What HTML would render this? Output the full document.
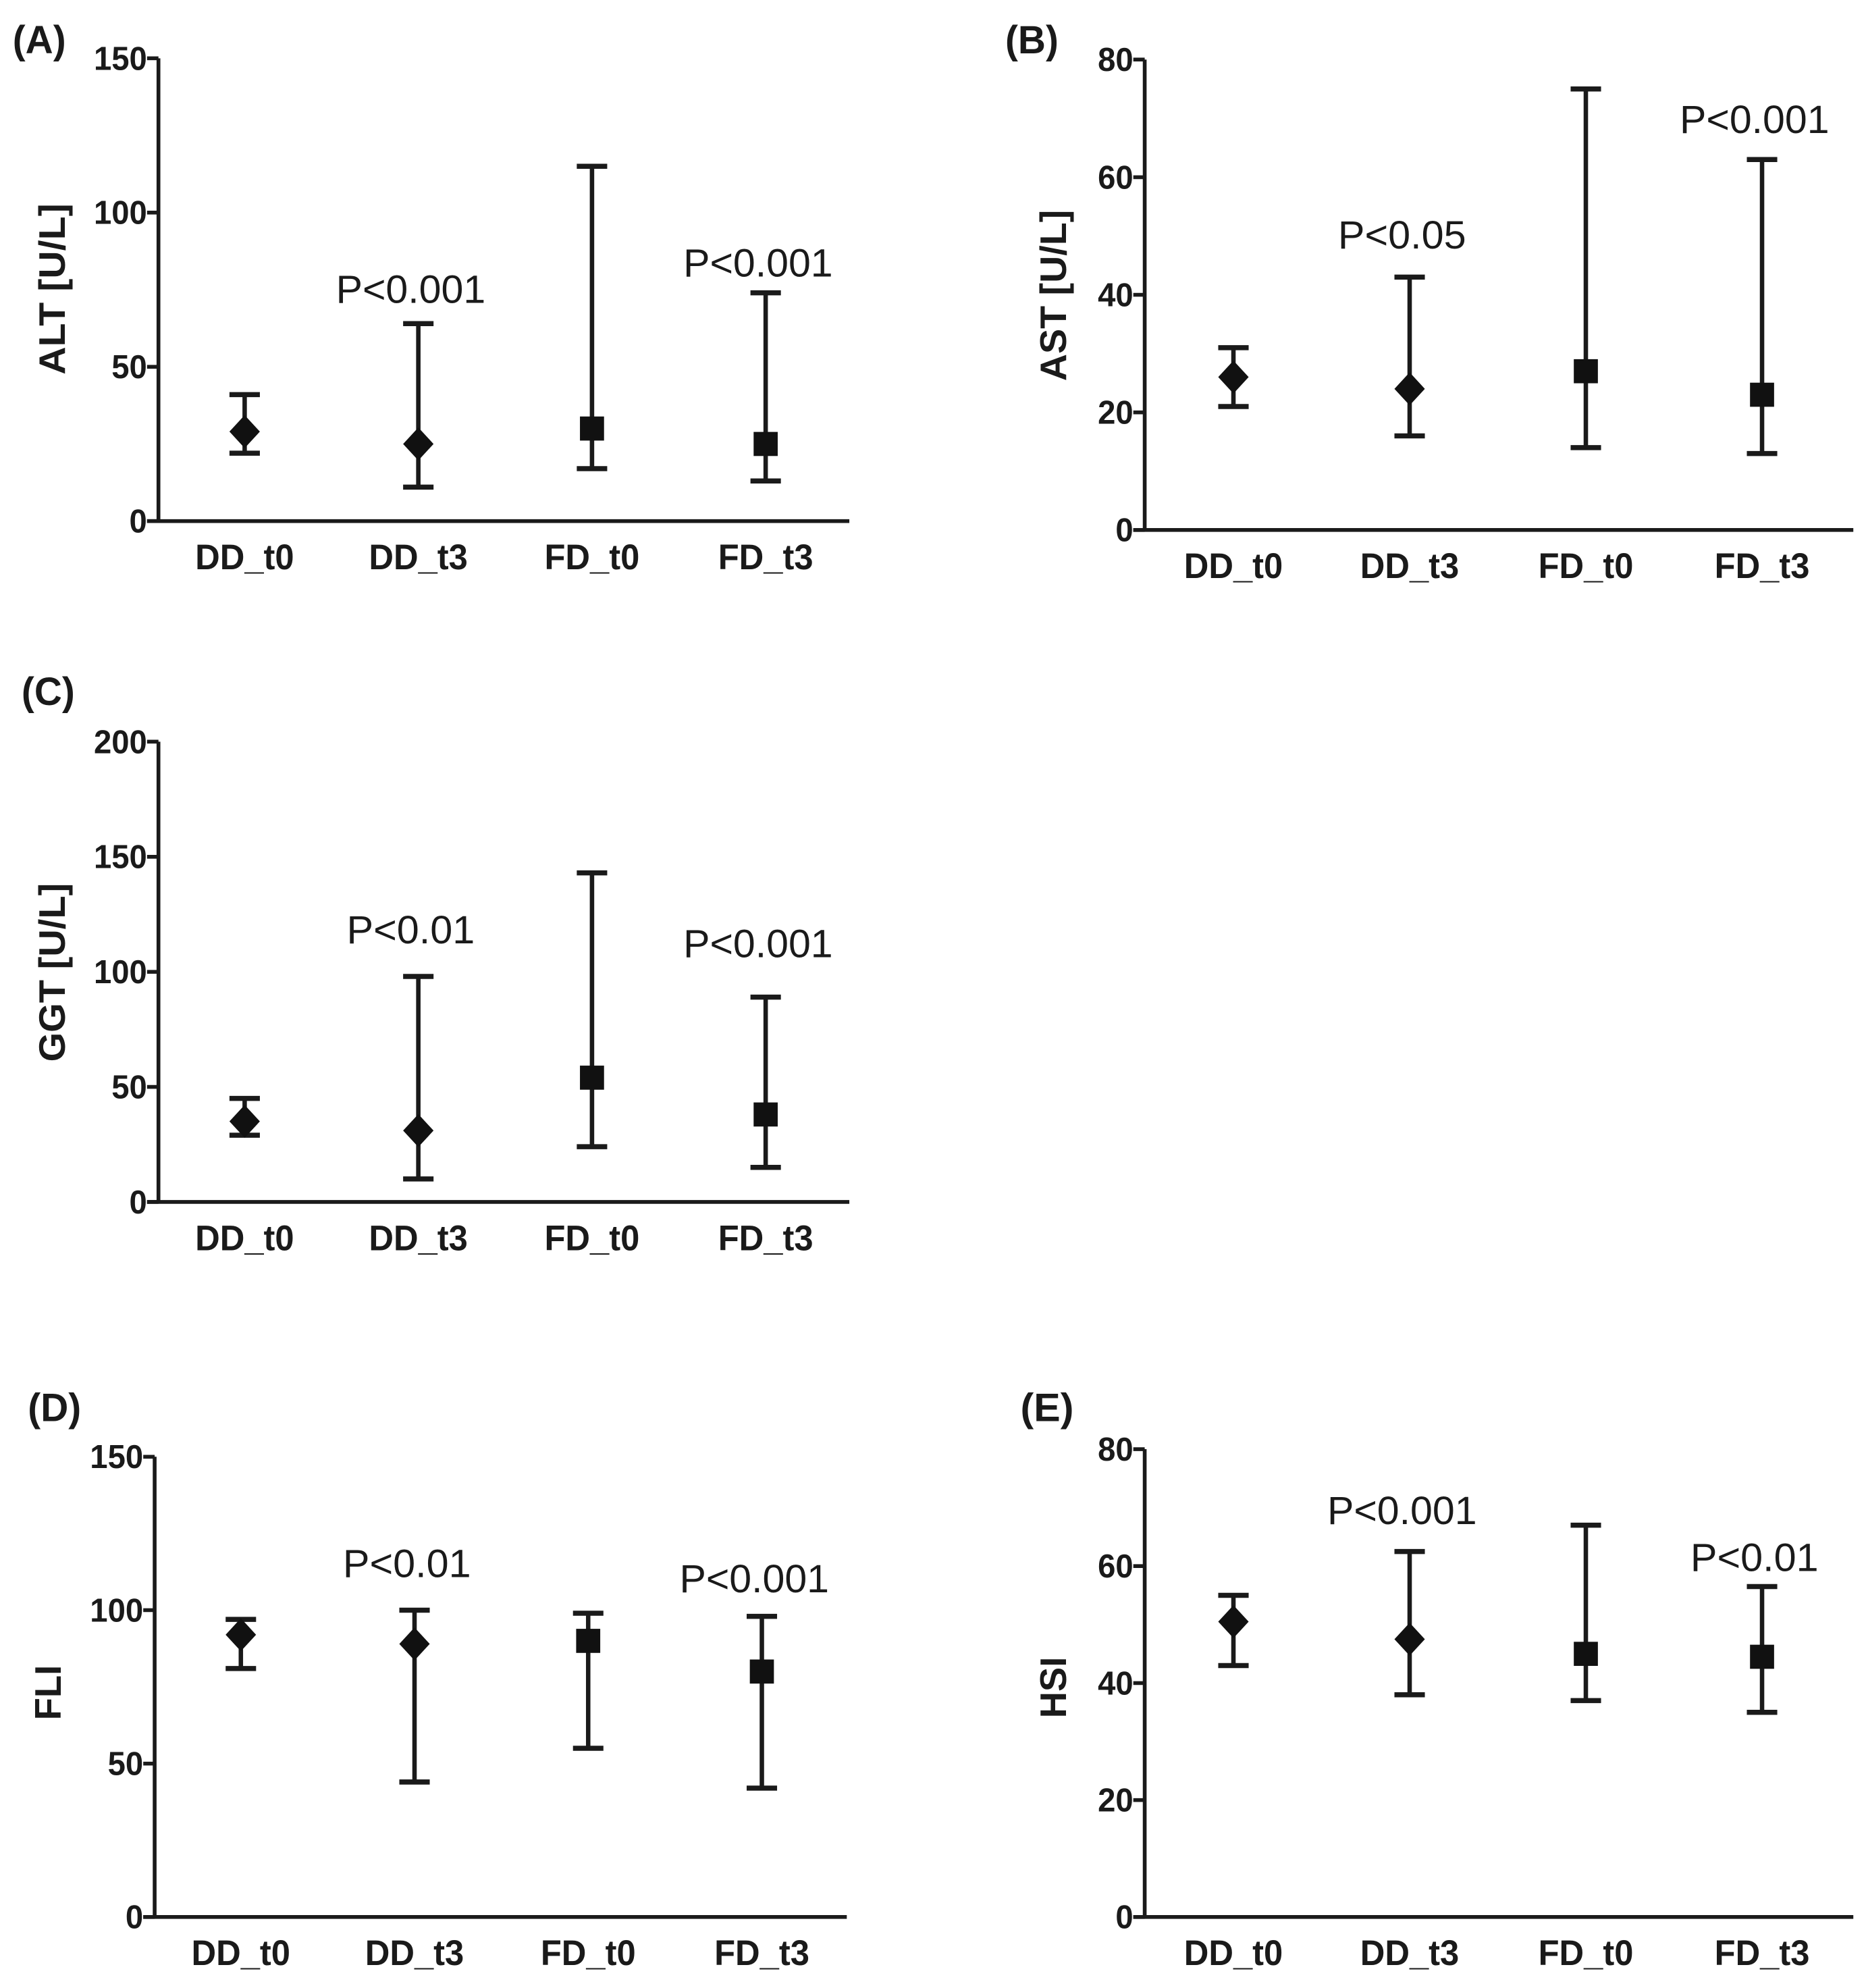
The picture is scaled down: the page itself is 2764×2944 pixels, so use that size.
<!DOCTYPE html>
<html><head><meta charset="utf-8"><style>
html,body{margin:0;padding:0;background:#fff;}
svg{display:block;}
text{font-family:"Liberation Sans",Arial,sans-serif;fill:#1a1a1a;}
</style></head><body>
<svg id="fig" width="2764" height="2944" viewBox="0 0 1472 1568" preserveAspectRatio="none" xmlns="http://www.w3.org/2000/svg"></svg>
<script>
const categories = ["DD_t0","DD_t3","FD_t0","FD_t3"];
const markers = ["diamond","diamond","square","square"];

const altMean = [29,25,30,25];
const altLow = [22,11,17,13];
const altHigh = [41,64,115,74];
const altTicks = [0,50,100,150];
const altP = ["","P<0.001","","P<0.001"];

const astMean = [26,24,27,23];
const astLow = [21,16,14,13];
const astHigh = [31,43,75,63];
const astTicks = [0,20,40,60,80];
const astP = ["","P<0.05","","P<0.001"];

const ggtMean = [35,31,54,38];
const ggtLow = [29,10,24,15];
const ggtHigh = [45,98,143,89];
const ggtTicks = [0,50,100,150,200];
const ggtP = ["","P<0.01","","P<0.001"];

const fliMean = [92,89,90,80];
const fliLow = [81,44,55,42];
const fliHigh = [97,100,99,98];
const fliTicks = [0,50,100,150];
const fliP = ["","P<0.01","","P<0.001"];

const hsiMean = [50.5,47.5,45,44.5];
const hsiLow = [43,38,37,35];
const hsiHigh = [55,62.5,67,56.5];
const hsiTicks = [0,20,40,60,80];
const hsiP = ["","P<0.001","","P<0.01"];

const NS="http://www.w3.org/2000/svg";
const svg=document.getElementById('fig');
function mk(tag,attrs,parent){const e=document.createElementNS(NS,tag);for(const k in attrs)e.setAttribute(k,attrs[k]);(parent||svg).appendChild(e);return e;}

function panel(cfg){
  const g=mk('g',{});
  
  
  const ymax=cfg.ticks[cfg.ticks.length-1];
  const y=v=>cfg.bottom-(v/ymax)*(cfg.bottom-cfg.top);
  const x=i=>cfg.cx0+i*cfg.dx;
  const lt=mk('text',{x:cfg.lx,y:cfg.ly,'font-size':31,'font-weight':'bold',textLength:42,lengthAdjust:'spacingAndGlyphs'},g);
  lt.textContent='('+cfg.id+')';
  
  
  const ya=mk('line',{x1:cfg.ax,y1:cfg.top,x2:cfg.ax,y2:cfg.bottom,stroke:'#1a1a1a','stroke-width':3},g);
  
  
  const xa=mk('line',{x1:cfg.ax-9,y1:cfg.bottom,x2:cfg.right,y2:cfg.bottom,stroke:'#1a1a1a','stroke-width':3},g);
  
  
  cfg.ticks.forEach(t=>{
    mk('line',{x1:cfg.ax-9,y1:y(t),x2:cfg.ax,y2:y(t),stroke:'#1a1a1a','stroke-width':3},g);
    const s=String(t);
    const tt=mk('text',{x:cfg.ax-9,y:y(t)+9,'font-size':26,'font-weight':'bold','text-anchor':'end',textLength:s.length*14,lengthAdjust:'spacingAndGlyphs'},g);
    tt.textContent=s;
    
    
  });
  const ta={x:0,y:0,'font-size':29,'font-weight':'bold','text-anchor':'middle',transform:`translate(${cfg.tx},${cfg.ty}) rotate(-90)`};
  if(cfg.tlen){ta.textLength=cfg.tlen;ta.lengthAdjust='spacingAndGlyphs';}
  const yt=mk('text',ta,g);
  yt.textContent=cfg.title;
  
  
  categories.forEach((c,i)=>{
    const ct=mk('text',{x:x(i),y:cfg.bottom+38,'font-size':28,'font-weight':'bold','text-anchor':'middle',textLength:c.startsWith('DD')?78:75,lengthAdjust:'spacingAndGlyphs'},g);
    ct.textContent=c;
    
    
    const eg=mk('g',{},g);
    
    
    const xi=x(i),yl=y(cfg.low[i]),yh=y(cfg.high[i]),ym=y(cfg.mean[i]);
    mk('line',{x1:xi,y1:yl,x2:xi,y2:yh,stroke:'#1a1a1a','stroke-width':3.5},eg);
    mk('line',{x1:xi-12,y1:yl,x2:xi+12,y2:yl,stroke:'#1a1a1a','stroke-width':4},eg);
    mk('line',{x1:xi-12,y1:yh,x2:xi+12,y2:yh,stroke:'#1a1a1a','stroke-width':4},eg);
    let m;
    if(markers[i]==='diamond'){
      m=mk('polygon',{points:`${xi},${ym-13} ${xi+12},${ym} ${xi},${ym+13} ${xi-12},${ym}`,fill:'#111'},eg);
    }else{
      m=mk('rect',{x:xi-9.5,y:ym-9.5,width:19,height:19,fill:'#111'},eg);
    }
    
    
    if(cfg.p[i]){
      const s=cfg.p[i];
      const pt=mk('text',{x:xi-6,y:cfg.py[i],'font-size':31,'text-anchor':'middle',textLength:s.length===7?118:101,lengthAdjust:'spacingAndGlyphs'},g);
      pt.textContent=s;
      
      
    }
  });
}

panel({id:'A',lx:10,ly:42,ax:125,top:46,bottom:411,right:670,cx0:193,dx:137,tx:51,ty:228,tlen:135,title:'ALT [U/L]',ticks:altTicks,mean:altMean,low:altLow,high:altHigh,p:altP,py:[0,239,0,218]});
panel({id:'B',lx:793,ly:42,ax:903,top:47,bottom:418,right:1462,cx0:973,dx:139,tx:841,ty:233,tlen:135,title:'AST [U/L]',ticks:astTicks,mean:astMean,low:astLow,high:astHigh,p:astP,py:[0,196,0,105]});
panel({id:'C',lx:17,ly:556,ax:125,top:585,bottom:948,right:670,cx0:193,dx:137,tx:51,ty:767,tlen:141,title:'GGT [U/L]',ticks:ggtTicks,mean:ggtMean,low:ggtLow,high:ggtHigh,p:ggtP,py:[0,744,0,755]});
panel({id:'D',lx:22,ly:1121,ax:122,top:1149,bottom:1512,right:668,cx0:190,dx:137,tx:48,ty:1335,tlen:0,title:'FLI',ticks:fliTicks,mean:fliMean,low:fliLow,high:fliHigh,p:fliP,py:[0,1244,0,1256]});
panel({id:'E',lx:805,ly:1121,ax:903,top:1143,bottom:1512,right:1462,cx0:973,dx:139,tx:841,ty:1331,tlen:0,title:'HSI',ticks:hsiTicks,mean:hsiMean,low:hsiLow,high:hsiHigh,p:hsiP,py:[0,1202,0,1239]});
</script>
</body></html>
